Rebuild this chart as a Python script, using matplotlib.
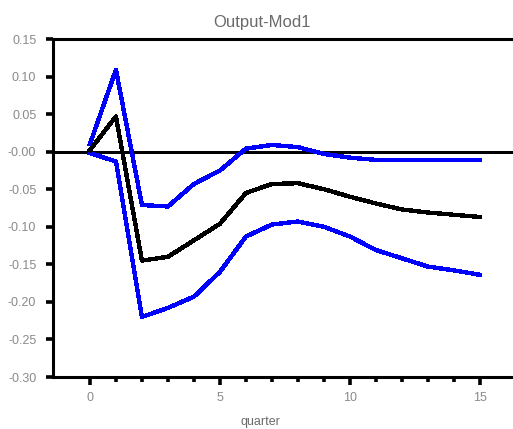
import matplotlib
matplotlib.use("Agg")
import matplotlib.pyplot as plt
import numpy as np

quarters = list(range(16))
median = [0.002, 0.047, -0.145, -0.140, -0.118, -0.096, -0.055, -0.043,
          -0.042, -0.050, -0.060, -0.069, -0.077, -0.081, -0.084, -0.087]
upper = [0.010, 0.109, -0.071, -0.073, -0.043, -0.025, 0.004, 0.009,
         0.006, -0.003, -0.008, -0.011, -0.011, -0.011, -0.011, -0.011]
lower = [-0.002, -0.013, -0.220, -0.208, -0.193, -0.160, -0.113, -0.097,
         -0.093, -0.100, -0.113, -0.131, -0.142, -0.153, -0.158, -0.164]
yticks = [0.15, 0.10, 0.05, 0.0, -0.05, -0.10, -0.15, -0.20, -0.25, -0.30]
ytick_labels = ["0.15", "0.10", "0.05", "-0.00", "-0.05", "-0.10", "-0.15",
                "-0.20", "-0.25", "-0.30"]
xticks = [0, 5, 10, 15]
title = "Output-Mod1"
xlabel = "quarter"

plt.rcParams['font.family'] = ['Liberation Sans', 'DejaVu Sans']

W, H = 513, 429
fig = plt.figure(figsize=(W / 100, H / 100), dpi=100)
ax = fig.add_axes([53 / W, 1 - 377 / H, 1 - 53 / W, (377 - 39) / H])

ax.axhline(0, color="black", lw=2.0, zorder=1, antialiased=False)
ax.plot(quarters, upper, color="#0000ff", lw=2.4, zorder=2, antialiased=False)
ax.plot(quarters, lower, color="#0000ff", lw=2.4, zorder=2, antialiased=False)
ax.plot(quarters, median, color="black", lw=2.4, zorder=3, antialiased=False)

ax.set_xlim(-1.42, 16.27)
ax.set_ylim(-0.30, 0.15)
ax.set_yticks(yticks)
ax.set_yticklabels(ytick_labels)
ax.set_xticks(xticks)
ax.set_xticks([q for q in quarters if q not in xticks], minor=True)

for s in ["left", "top", "bottom"]:
    ax.spines[s].set_linewidth(2.2)
ax.spines["right"].set_visible(False)

ax.tick_params(axis="y", which="major", direction="out", length=5, width=2.6,
               labelsize=9, labelcolor="#8a8a8a", pad=7)
ax.tick_params(axis="x", which="major", direction="out", length=6, width=2.6,
               labelsize=9, labelcolor="#8a8a8a", pad=5)
ax.tick_params(axis="x", which="minor", direction="out", length=3.5, width=2.6)

fig.text(262 / W, 1 - 27 / H, title, fontsize=12, color="#6a6a6a",
         ha="center", va="baseline")
fig.text(260 / W, 1 - 425 / H, xlabel, fontsize=9, color="#6a6a6a",
         ha="center", va="baseline")

fig.savefig("out.png", dpi=100)
